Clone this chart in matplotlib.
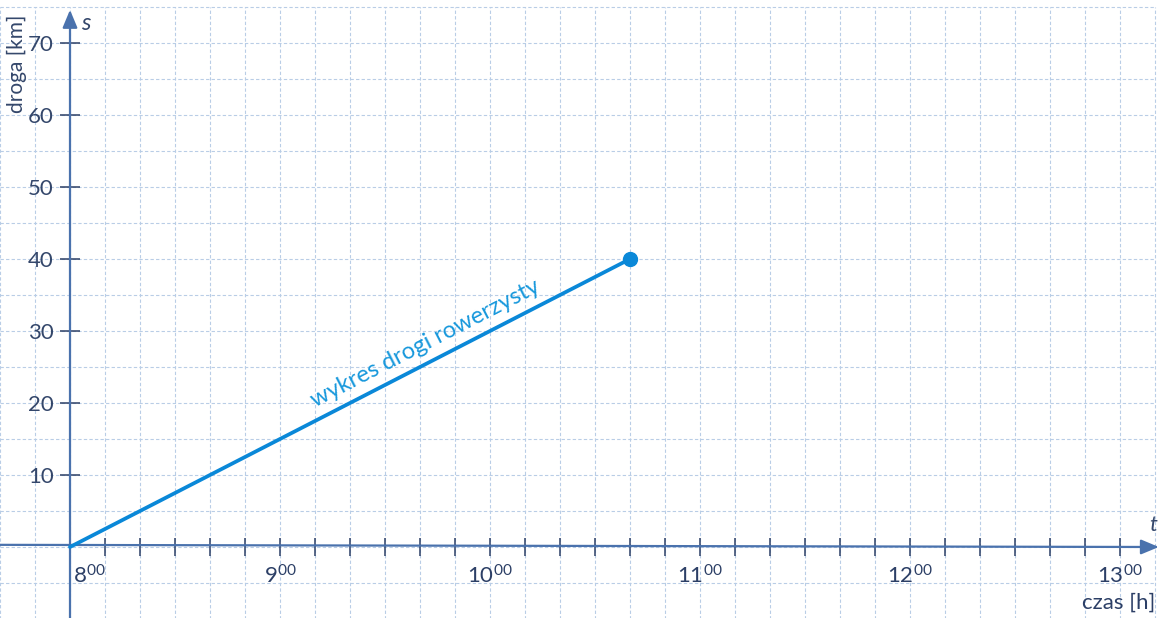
import numpy as np
import matplotlib
matplotlib.use("Agg")
import matplotlib.pyplot as plt
from matplotlib.ticker import FixedLocator
import matplotlib.transforms as mtransforms

# cyclist's distance over time: start at 8:00, 40 km reached at 10:40
time_h = [8.0, 10 + 40 / 60]
distance_km = [0, 40]

y_ticks = [10, 20, 30, 40, 50, 60, 70]
x_hours = [8, 9, 10, 11, 12, 13]
x_labels = [r"$\mathrm{%d^{00}}$" % h for h in x_hours]

plt.rcParams["font.family"] = ["Lato", "DejaVu Sans"]
plt.rcParams["mathtext.fontset"] = "custom"
plt.rcParams["mathtext.rm"] = "Lato"
plt.rcParams["mathtext.it"] = "Lato:italic"

axis_col = "#4a72ad"
tick_col = "#2c3f66"
text_col = "#34476b"
grid_col = "#b9cde6"
line_col = "#0a88d8"

fig = plt.figure(figsize=(11.65, 6.18), dpi=100)
fig.patch.set_facecolor("white")
ax = fig.add_axes([0, 0, 1, 1])
ax.set_facecolor("white")

x0 = 8 - 70 / 210
x1 = 8 + 1095 / 210
y0 = -71 / 7.2
y1 = 547 / 7.2
ax.set_xlim(x0, x1)
ax.set_ylim(y0, y1)

# squared paper: 10-minute columns, 5 km rows
gx = np.arange(8 - 2 / 6, 8 + 31 / 6 + 1e-9, 1 / 6)
gy = np.arange(-10, 75 + 1e-9, 5)
ax.vlines(gx, -10, 75, colors=grid_col, linewidth=0.8, linestyles=(0, (3, 2)), zorder=0)
ax.hlines(gy, gx[0], gx[-1], colors=grid_col, linewidth=0.8, linestyles=(0, (3, 2)), zorder=0)

# axes crossing at (8:00, 0 km); spines kept only as tick carriers
for side in ("top", "right"):
    ax.spines[side].set_visible(False)
ax.spines["left"].set_position(("data", 8))
ax.spines["bottom"].set_position(("data", 0))
ax.spines["left"].set_color((0, 0, 0, 0))
ax.spines["bottom"].set_color((0, 0, 0, 0))

ax.annotate("", xy=(8, 74.6), xytext=(8, y0),
            arrowprops=dict(arrowstyle="-|>,head_length=0.6,head_width=0.25",
                            color=axis_col, lw=1.6, mutation_scale=18,
                            shrinkA=0, shrinkB=0), zorder=2)
ax.annotate("", xy=(13.185, 0), xytext=(x0, 0.3),
            arrowprops=dict(arrowstyle="-|>,head_length=0.6,head_width=0.25",
                            color=axis_col, lw=1.6, mutation_scale=18,
                            shrinkA=0, shrinkB=0), zorder=2)

ax.yaxis.set_major_locator(FixedLocator(y_ticks))
ax.yaxis.set_ticklabels([str(v) for v in y_ticks])
ax.tick_params(axis="y", direction="inout", length=15, width=1.1, color=tick_col,
               labelcolor=text_col, labelsize=16, pad=-5)
for lbl in ax.yaxis.get_ticklabels():
    lbl.set_transform(lbl.get_transform() +
                      mtransforms.ScaledTranslation(-13 / 100, 0, fig.dpi_scale_trans))

ax.xaxis.set_major_locator(FixedLocator(x_hours))
ax.xaxis.set_ticklabels(x_labels)
ax.xaxis.set_minor_locator(FixedLocator(np.arange(8 + 1 / 6, 13.01, 1 / 6)))
ax.tick_params(axis="x", which="both", direction="inout", length=13, width=1.1,
               color=tick_col, labelcolor=tick_col, labelsize=16, pad=6)
ax.xaxis.get_major_ticks()[0].tick1line.set_visible(False)
first = ax.xaxis.get_ticklabels()[0]
first.set_transform(first.get_transform() +
                    mtransforms.ScaledTranslation(19 / 100, 0, fig.dpi_scale_trans))

# cyclist's distance-time graph
ax.plot(time_h, distance_km, color=line_col, lw=2.7, solid_capstyle="round", zorder=3)
ax.plot(time_h[-1:], distance_km[-1:], "o", color=line_col, ms=10, zorder=4)

angle = np.degrees(np.arctan2(distance_km[1] - distance_km[0], time_h[1] - time_h[0]))
ax.text(9.69, 28.2, "wykres drogi rowerzysty", color="#1798dc", fontsize=17,
        rotation=angle, transform_rotates_text=True, rotation_mode="anchor",
        ha="center", va="center", zorder=4)

ax.text(8.075, 72.7, "s", style="italic", color=text_col, fontsize=17, ha="center", va="center")
ax.text(13.157, 3.0, "t", style="italic", color=text_col, fontsize=16, ha="center", va="center")
ax.text(7.748, 67.1, "droga [km]", rotation=90, color=text_col, fontsize=15,
        ha="center", va="center")
ax.text(13.167, -7.7, "czas [h]", color=tick_col, fontsize=16, ha="right", va="center")

fig.savefig("out.png", dpi=100, facecolor="white")
